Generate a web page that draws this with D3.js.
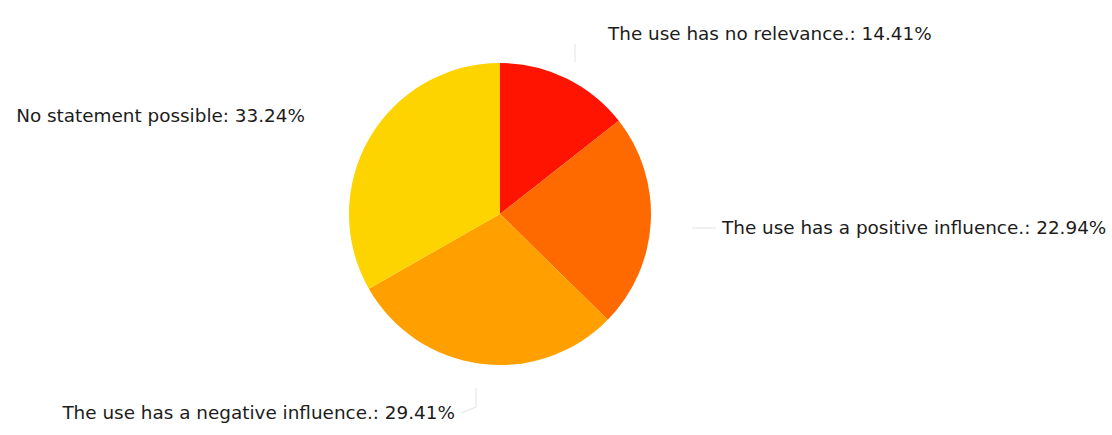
<!DOCTYPE html>
<html>
<head>
<meta charset="utf-8">
<script src="https://cdn.jsdelivr.net/npm/d3@7"></script>
<style>
  html, body { margin: 0; padding: 0; background: #fff; }
  svg text { font-family: "DejaVu Sans", sans-serif; fill: #1c1c1c; }
</style>
</head>
<body>
<svg id="chart" width="1112" height="435"></svg>
<script>
// Survey answers and their shares (percent)
const categories = [
  "The use has no relevance.",
  "The use has a positive influence.",
  "The use has a negative influence.",
  "No statement possible"
];
const shares = [14.41, 22.94, 29.41, 33.24];
const colors = ["#fe1400", "#fe6a00", "#ffa000", "#fdd300"];

const svg = d3.select("#chart");
const cx = 500, cy = 214, radius = 151;

const pie = d3.pie().sort(null).value(d => d.value);
const arcs = pie(categories.map((c, i) => ({ name: c, value: shares[i], color: colors[i] })));
const arc = d3.arc().innerRadius(0).outerRadius(radius);

const g = svg.append("g").attr("transform", `translate(${cx},${cy})`);

g.selectAll("path.slice")
  .data(arcs)
  .join("path")
  .attr("class", "slice")
  .attr("d", arc)
  .attr("fill", d => d.data.color);

// Label placement for each slice
const labelPos = [
  { x: 608, y: 34, anchor: "start" },
  { x: 722, y: 228, anchor: "start" },
  { x: 455, y: 413, anchor: "end" },
  { x: 305, y: 116, anchor: "end" }
];

// Short leader lines towards the labels
const leaders = [
  [[575, 62], [575, 44]],
  [[692, 228], [716, 228]],
  [[476, 388], [476, 407], [461, 413]]
];
const line = d3.line();
svg.selectAll("path.leader")
  .data(leaders)
  .join("path")
  .attr("class", "leader")
  .attr("d", d => line(d))
  .attr("fill", "none")
  .attr("stroke", "#e2e2e2")
  .attr("stroke-width", 1);

svg.selectAll("text.label")
  .data(arcs)
  .join("text")
  .attr("class", "label")
  .attr("x", (d, i) => labelPos[i].x)
  .attr("y", (d, i) => labelPos[i].y)
  .attr("dy", "0.35em")
  .attr("text-anchor", (d, i) => labelPos[i].anchor)
  .style("font-size", "18.4px")
  .text(d => `${d.data.name}: ${d.data.value.toFixed(2)}%`);
</script>
</body>
</html>
